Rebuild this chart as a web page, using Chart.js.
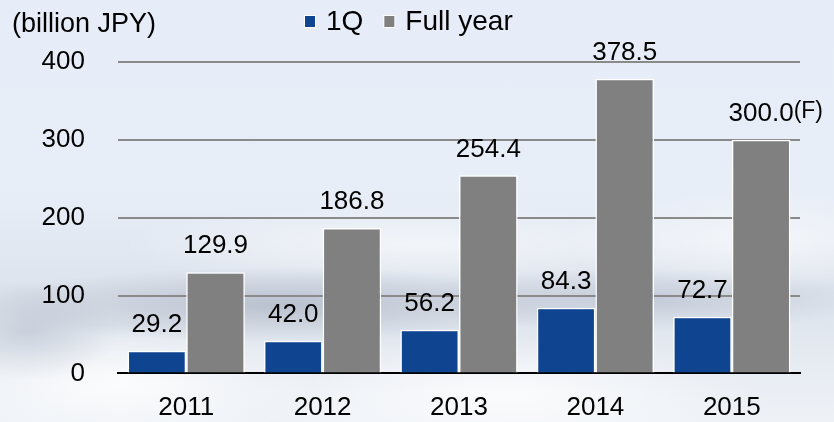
<!DOCTYPE html>
<html>
<head>
<meta charset="utf-8">
<script src="https://cdn.jsdelivr.net/npm/chart.js@4"></script>
<style>
  html, body { margin: 0; padding: 0; }
  body {
    width: 834px; height: 422px; overflow: hidden;
    background:
      radial-gradient(ellipse 300px 38px at 280px 305px, rgba(160,170,186,0.6), rgba(160,170,186,0) 100%),
      radial-gradient(ellipse 240px 32px at 640px 300px, rgba(170,180,196,0.5), rgba(170,180,196,0) 100%),
      radial-gradient(ellipse 90px 50px at 30px 330px, rgba(175,185,200,0.5), rgba(175,185,200,0) 100%),
      radial-gradient(ellipse 200px 60px at 120px 385px, rgba(255,255,255,0.85), rgba(255,255,255,0) 100%),
      radial-gradient(ellipse 260px 60px at 500px 395px, rgba(255,255,255,0.8), rgba(255,255,255,0) 100%),
      radial-gradient(ellipse 200px 50px at 760px 240px, rgba(255,255,255,0.6), rgba(255,255,255,0) 100%),
      radial-gradient(ellipse 300px 40px at 420px 245px, rgba(255,255,255,0.55), rgba(255,255,255,0) 100%),
      linear-gradient(to bottom, #e6edf8 0%, #e8eef8 45%, #dde3ec 70%, #eef2f7 100%);
  }
  #wrap { position: relative; width: 834px; height: 422px; }
</style>
</head>
<body>
<div id="wrap"><canvas id="c" width="834" height="422"></canvas></div>
<script>
const years = ["2011", "2012", "2013", "2014", "2015"];
const q1 = [29.2, 42.0, 56.2, 84.3, 72.7];
const fullYear = [129.9, 186.8, 254.4, 378.5, 300.0];
const fullYearNotes = ["", "", "", "", "(F)"];
const seriesNames = ["1Q", "Full year"];
const unitLabel = "(billion JPY)";

const FONT = "'Liberation Sans', Arial, sans-serif";

// value labels above bars + unit label + legend
const labelsPlugin = {
  id: "labels",
  afterDatasetsDraw(chart) {
    const ctx = chart.ctx;
    ctx.save();
    ctx.fillStyle = "#000";
    ctx.textBaseline = "middle";
    chart.data.datasets.forEach((ds, di) => {
      const meta = chart.getDatasetMeta(di);
      meta.data.forEach((bar, i) => {
        const txt = ds.data[i].toFixed(1);
        ctx.font = "26px " + FONT;
        ctx.textAlign = "center";
        const y = bar.y - 26;
        ctx.fillText(txt, bar.x, y);
        if (di === 1 && fullYearNotes[i]) {
          const w = ctx.measureText(txt).width;
          ctx.font = "23px " + FONT;
          ctx.textAlign = "left";
          ctx.fillText(fullYearNotes[i], bar.x + w / 2, y - 2);
        }
      });
    });

    ctx.font = "27px " + FONT;
    ctx.textAlign = "left";
    ctx.fillText(unitLabel, 12, 25);

    // legend
    let x = 305;
    chart.data.datasets.forEach((ds) => {
      ctx.fillStyle = "#fff";
      ctx.fillRect(x - 1, 15, 12, 13);
      ctx.fillStyle = ds.backgroundColor;
      ctx.fillRect(x, 16, 10, 11);
      ctx.fillStyle = "#000";
      ctx.font = "28px " + FONT;
      ctx.textAlign = "left";
      ctx.fillText(ds.label, x + 21, 22);
      x += 21 + ctx.measureText(ds.label).width + 21;
    });
    ctx.restore();
  }
};

new Chart(document.getElementById("c"), {
  type: "bar",
  data: {
    labels: years,
    datasets: [
      { label: seriesNames[0], data: q1, backgroundColor: "#0f4491", borderColor: "#ffffff", borderWidth: 1.5 },
      { label: seriesNames[1], data: fullYear, backgroundColor: "#808080", borderColor: "#ffffff", borderWidth: 1.5 }
    ]
  },
  options: {
    responsive: false,
    animation: false,
    devicePixelRatio: 1,
    layout: { padding: { top: 62, right: 34, left: 0, bottom: 0 } },
    datasets: { bar: { categoryPercentage: 0.86, barPercentage: 1.0 } },
    plugins: { legend: { display: false }, tooltip: { enabled: false } },
    scales: {
      x: {
        grid: { display: false, drawTicks: false },
        border: { color: "#000", width: 2 },
        ticks: { color: "#000", font: { family: FONT, size: 26 }, padding: 19 },
        afterFit(s) { s.height = 46; }
      },
      y: {
        min: 0, max: 400,
        grid: { color: (c) => c.tick.value === 0 ? "rgba(0,0,0,0)" : "#8a8a8a", lineWidth: 2, drawTicks: false },
        border: { display: false },
        ticks: { stepSize: 100, color: "#000", font: { family: FONT, size: 26 }, padding: 33 },
        afterFit(s) { s.width = 118; }
      }
    }
  },
  plugins: [labelsPlugin]
});
</script>
</body>
</html>
